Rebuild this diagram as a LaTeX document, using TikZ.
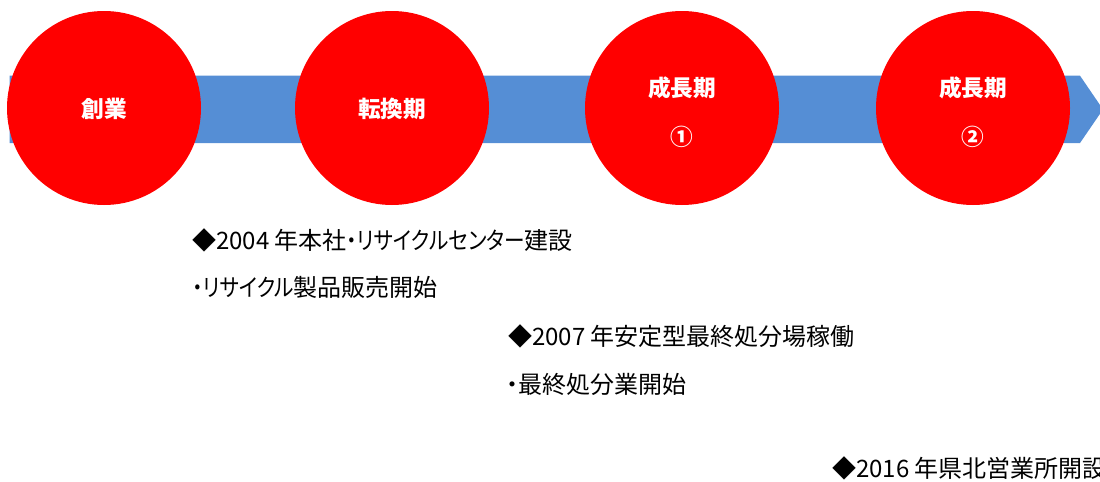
\documentclass[tikz,border=0pt]{standalone}
\usepackage{fontspec}
\newfontfamily\jp{Noto Sans CJK JP}[RawFeature={+palt}]
\newfontfamily\jpkana{Noto Sans CJK JP}[RawFeature={+palt}, FakeStretch=0.86]
\newfontfamily\jpplain{Noto Sans CJK JP}
\definecolor{arrowblue}{HTML}{558ED5}
\definecolor{stagered}{HTML}{FF0000}
\tikzset{
  stage/.style={circle, fill=stagered, minimum size=145.5pt, inner sep=0pt},
  stagelabel/.style={text=white, inner sep=0pt, font=\jpplain\bfseries\fontsize{17}{21}\selectfont},
  event/.style={anchor=west, inner sep=0pt, text=black, font=\jp\fontsize{18}{22}\selectfont}
}
\begin{document}
\begin{tikzpicture}[x=0.75pt, y=-0.75pt]
\useasboundingbox (0,0) rectangle (1100,482);
\clip (0,0) rectangle (1100,482);
% timeline arrow
\fill[arrowblue] (9.5,75.7) -- (1080,75.7) -- (1103,109.4) -- (1080,143) -- (9.5,143) -- cycle;
% stages
\node[stage] (s1) at (104,108) {};
\node[stage] (s2) at (392,108) {};
\node[stage] (s3) at (682,108) {};
\node[stage] (s4) at (973,108) {};
\node[stagelabel] (l1) at (104,109) {創業};
\node[stagelabel] (l2) at (392,109) {転換期};
\node[stagelabel] (l3a) at (682,88) {成長期};
\node[stagelabel] (l3b) at (682,137) {①};
\node[stagelabel] (l4a) at (973,88) {成長期};
\node[stagelabel] (l4b) at (973,137) {②};
% events
\node[event] (e1) at (192,240) {◆2004 年本社{\jpkana ・リサイクルセンター}建設};
\node[event] (e2) at (192,287) {{\jpkana ・リサイクル}製品販売開始};
\node[event] (e3) at (508,336) {◆2007 年安定型最終処分場稼働};
\node[event] (e4) at (506,384) {・最終処分業開始};
\node[event] (e5) at (832,468) {◆2016 年県北営業所開設};
\end{tikzpicture}
\end{document}
